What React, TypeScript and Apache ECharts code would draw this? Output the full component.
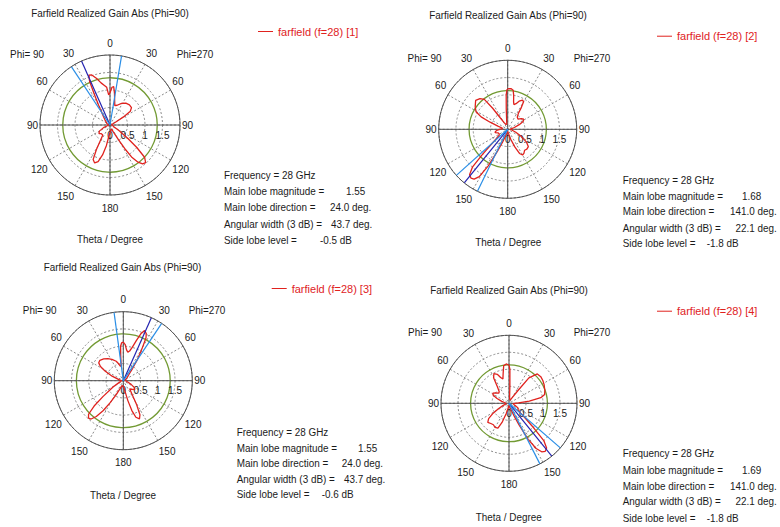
import React, { useEffect, useRef } from "react";
import * as echarts from "echarts";

// ---------- text ----------
const TITLE_TEXT = "Farfield Realized Gain Abs (Phi=90)";
const PHI_LEFT = "Phi= 90";
const PHI_RIGHT = "Phi=270";
const AXIS_NAME = "Theta / Degree";
const STAT_LABELS = [
  "Frequency = 28 GHz",
  "Main lobe magnitude =",
  "Main lobe direction =",
  "Angular width (3 dB) =",
  "Side lobe level =",
];

// ---------- scales ----------
const RADIAL_MAX = 2;
const RADIAL_STEP = 0.5;
const ANGLE_STEP = 30;

// Angles are measured clockwise from the top (theta = 0).
// Right half = Phi=270 (theta = angle), left half = Phi=90 (theta = 360 - angle).

// ---------- plot 1 ----------
const P1_NAME = "farfield (f=28) [1]";
const P1_ANGLE = [0, 3, 5.5, 8, 11, 14, 20, 28, 36, 44, 51, 56, 59, 62, 68, 80, 90, 100, 115, 122, 127, 130, 133, 136.5, 140, 143, 146, 148, 150, 153, 158, 165, 175, 185, 190, 194, 198, 202, 206, 209, 212, 216, 225, 232, 240, 248, 255, 270, 285, 295, 305, 315, 322, 327, 330, 333, 335, 337, 340, 344, 348, 352, 355, 357.5, 360];
const P1_GAIN = [0.92, 1.08, 1.1, 0.92, 0.7, 0.57, 0.6, 0.7, 0.77, 0.8, 0.79, 0.7, 0.45, 0.2, 0.08, 0.04, 0.04, 0.08, 0.12, 0.3, 0.65, 1.0, 1.35, 1.48, 1.45, 1.33, 1.1, 0.8, 0.5, 0.28, 0.15, 0.12, 0.18, 0.3, 0.6, 0.88, 1.1, 1.17, 1.1, 0.8, 0.5, 0.35, 0.35, 0.4, 0.35, 0.2, 0.08, 0.04, 0.05, 0.1, 0.12, 0.2, 0.3, 0.45, 0.65, 1.0, 1.38, 1.55, 1.52, 1.38, 1.23, 1.14, 1.08, 0.86, 0.92];
const P1_MAIN_DIR = 336;
const P1_EDGES = [326.5, 9.5];
const P1_SIDE_RING = 1.35;
const P1_VALUES = ["1.55", "24.0 deg.", "43.7 deg.", "-0.5 dB"];

// ---------- plot 2 ----------
const P2_NAME = "farfield (f=28) [2]";
const P2_ANGLE = [0, 2, 5, 8, 10, 12, 14, 18, 22, 27, 30, 32, 34, 38, 45, 52, 58, 63, 68, 75, 82, 90, 100, 110, 118, 124, 130, 136, 141, 146, 150, 154, 158, 163, 170, 180, 190, 198, 202, 205, 208, 211, 214, 217, 220, 223, 225, 227, 230, 235, 242, 250, 255, 260, 266, 274, 282, 288, 292, 295, 299, 305, 312, 318, 322, 324.5, 327, 332, 340, 350, 354, 356, 357.5, 359, 360];
const P2_GAIN = [1.17, 1.18, 1.18, 1.14, 1.0, 0.82, 0.74, 0.78, 0.88, 0.95, 0.92, 0.75, 0.55, 0.45, 0.42, 0.5, 0.55, 0.5, 0.36, 0.2, 0.1, 0.07, 0.12, 0.25, 0.45, 0.65, 0.78, 0.8, 0.78, 0.84, 0.86, 0.78, 0.55, 0.3, 0.12, 0.06, 0.1, 0.2, 0.4, 0.7, 1.2, 1.6, 1.74, 1.77, 1.72, 1.5, 1.05, 0.7, 0.45, 0.3, 0.28, 0.3, 0.38, 0.36, 0.3, 0.18, 0.15, 0.3, 0.55, 0.85, 1.05, 1.15, 1.25, 1.2, 1.1, 0.75, 0.4, 0.22, 0.15, 0.15, 0.3, 0.6, 1.0, 1.15, 1.17];
const P2_MAIN_DIR = 219;
const P2_EDGES = [228.1, 206.0];
const P2_SIDE_RING = 1.12;
const P2_VALUES = ["1.68", "141.0 deg.", "22.1 deg.", "-1.8 dB"];

// ---------- plot 3 ----------
const P3_NAME = "farfield (f=28) [3]";
const P3_ANGLE = [0, 3, 6, 9, 12, 15, 18, 20.5, 23, 26, 28, 31, 34, 37, 42, 50, 60, 75, 90, 105, 115, 122, 128, 135, 142, 148, 151, 154, 157, 161, 164, 167, 170, 175, 185, 195, 202, 207, 211, 214, 217, 220, 223, 226, 229, 232, 238, 245, 255, 270, 280, 292, 298, 302, 306, 311, 318, 325, 332, 340, 345, 349, 352, 354, 355.5, 357.5, 360];
const P3_GAIN = [1.12, 1.05, 0.9, 0.84, 0.88, 1.0, 1.22, 1.45, 1.58, 1.52, 1.4, 1.0, 0.7, 0.45, 0.25, 0.15, 0.08, 0.05, 0.05, 0.12, 0.25, 0.38, 0.42, 0.35, 0.3, 0.5, 0.8, 1.1, 1.2, 1.12, 0.9, 0.6, 0.35, 0.2, 0.15, 0.15, 0.25, 0.45, 0.75, 1.05, 1.3, 1.45, 1.48, 1.4, 1.12, 0.75, 0.35, 0.15, 0.08, 0.05, 0.1, 0.35, 0.6, 0.78, 0.88, 0.9, 0.85, 0.78, 0.7, 0.6, 0.5, 0.42, 0.45, 0.72, 1.0, 1.1, 1.12];
const P3_MAIN_DIR = 24;
const P3_EDGES = [352.3, 33.8];
const P3_SIDE_RING = 1.36;
const P3_VALUES = ["1.55", "24.0 deg.", "43.7 deg.", "-0.6 dB"];

// ---------- plot 4 ----------
const P4_NAME = "farfield (f=28) [4]";
const P4_ANGLE = [0, 1.5, 3, 5, 10, 20, 30, 35, 38, 44, 50, 56, 62, 70, 76, 80, 84, 88, 95, 105, 112, 118, 125, 130, 133, 135, 137, 140, 143, 146, 149, 152, 155, 158, 162, 170, 180, 188, 195, 200, 204, 210, 216, 222, 228, 233, 238, 243, 250, 260, 270, 278, 285, 292, 297, 302, 308, 315, 320, 325, 329, 333, 338, 342, 346, 349, 352, 356, 360];
const P4_GAIN = [1.12, 1.0, 0.5, 0.2, 0.12, 0.1, 0.2, 0.45, 0.95, 1.2, 1.22, 1.2, 1.17, 1.12, 1.08, 0.95, 0.6, 0.28, 0.12, 0.15, 0.22, 0.3, 0.32, 0.45, 0.7, 1.05, 1.5, 1.72, 1.77, 1.72, 1.55, 1.2, 0.7, 0.4, 0.2, 0.1, 0.06, 0.12, 0.3, 0.6, 0.8, 0.82, 0.78, 0.8, 0.84, 0.75, 0.55, 0.35, 0.18, 0.08, 0.08, 0.12, 0.22, 0.38, 0.52, 0.56, 0.5, 0.42, 0.45, 0.6, 0.88, 0.98, 0.92, 0.8, 0.74, 0.9, 1.12, 1.16, 1.12];
const P4_MAIN_DIR = 141;
const P4_EDGES = [131, 153];
const P4_SIDE_RING = 1.13;
const P4_VALUES = ["1.69", "141.0 deg.", "22.1 deg.", "-1.8 dB"];

const PLOTS = [
  { name: P1_NAME, angle: P1_ANGLE, gain: P1_GAIN, main: P1_MAIN_DIR, edges: P1_EDGES, ring: P1_SIDE_RING, values: P1_VALUES },
  { name: P2_NAME, angle: P2_ANGLE, gain: P2_GAIN, main: P2_MAIN_DIR, edges: P2_EDGES, ring: P2_SIDE_RING, values: P2_VALUES },
  { name: P3_NAME, angle: P3_ANGLE, gain: P3_GAIN, main: P3_MAIN_DIR, edges: P3_EDGES, ring: P3_SIDE_RING, values: P3_VALUES },
  { name: P4_NAME, angle: P4_ANGLE, gain: P4_GAIN, main: P4_MAIN_DIR, edges: P4_EDGES, ring: P4_SIDE_RING, values: P4_VALUES },
];

// ---------- layout (pixels) ----------
const LAYOUT = [
  { center: [110, 125], r: 70, title: [110, 13], phiL: [27, 54], phiR: [195, 54], axisName: [110, 239], legend: [258, 33], statX: 224, valX: [346, 330, 331, 320], rows: [175, 191.5, 207.5, 224, 240] },
  { center: [507.7, 129.3], r: 69, title: [508, 15.5], phiL: [424.5, 58.7], phiR: [592, 58.7], axisName: [508.3, 242.7], legend: [657, 37.7], statX: 622.7, valX: [742, 730, 735.5, 706.7], rows: [180, 196, 211.7, 228.3, 243.3] },
  { center: [123.3, 380.7], r: 69, title: [122.5, 267.3], phiL: [39.7, 310.7], phiR: [207, 310.7], axisName: [123, 495], legend: [271.7, 290], statX: 236.7, valX: [358, 341.7, 344, 321.7], rows: [432.7, 448.3, 463.3, 479, 494.3] },
  { center: [509, 403.3], r: 68, title: [509, 290.7], phiL: [425, 332.7], phiR: [592, 332.7], axisName: [508.7, 517.3], legend: [657, 312.7], statX: 622.7, valX: [742, 730, 735.5, 706.7], rows: [453.3, 470, 486, 501.7, 518.3] },
];

const FONT = '"Liberation Sans", Arial, sans-serif';
const TEXT = "#1a1a1a";
const RED = "#e0221e";
const GREEN = "#729a33";
const DARK_BLUE = "#2424b0";
const LIGHT_BLUE = "#2a8ee6";
const AXIS_COLOR = "#505050";
const GRID_COLOR = "#8a8a8a";

// extra distance of each angle label from the rim: [top, right, bottom, left] padding
const LABEL_PAD: Record<string, number[]> = {
  p0: [0, 0, 5, 0],
  p30: [0, 0, 4, 0],
  p60: [0, 0, 3, 0],
  p90: [0, 0, 0, 0],
  p120: [3, 0, 0, 0],
  p150: [4, 0, 0, 0],
  p180: [6, 0, 0, 0],
};
const AXIS_LABEL_SIZE = 10;
const RICH: Record<string, any> = {};
Object.keys(LABEL_PAD).forEach((k) => {
  RICH[k] = { padding: LABEL_PAD[k], fontSize: AXIS_LABEL_SIZE, fontFamily: FONT, color: TEXT };
});

function txt(x: number, y: number, text: string, align = "center", size = 11, color = TEXT) {
  return {
    type: "text",
    x,
    y,
    scaleX: 0.9,
    silent: true,
    style: { text, fill: color, font: `${size}px ${FONT}`, align, verticalAlign: "middle" },
  };
}

function buildOption() {
  const polar: any[] = [];
  const angleAxis: any[] = [];
  const radiusAxis: any[] = [];
  const series: any[] = [];
  const legend: any[] = [];
  const graphic: any[] = [];

  PLOTS.forEach((p, i) => {
    const L = LAYOUT[i];
    const base = i * 3;
    for (let k = 0; k < 3; k++) polar.push({ center: L.center, radius: L.r });

    // polar A: dashed grid + angle labels
    angleAxis.push({
      polarIndex: base, type: "value", min: 0, max: 360, interval: ANGLE_STEP,
      startAngle: 90, clockwise: true, z: 0,
      axisLine: { show: false }, axisTick: { show: false },
      splitLine: { show: true, lineStyle: { color: GRID_COLOR, width: 1, type: [2, 2] } },
      axisLabel: {
        show: true, margin: 2, color: TEXT, fontSize: AXIS_LABEL_SIZE, fontFamily: FONT,
        rich: RICH,
        formatter: (v: number) => {
          if (v >= 360) return "";
          const t = v <= 180 ? v : 360 - v;
          return `{p${t}|${t}}`;
        },
      },
    });
    radiusAxis.push({
      polarIndex: base, type: "value", min: 0, max: RADIAL_MAX, interval: RADIAL_STEP, z: 0,
      axisLine: { show: false }, axisTick: { show: false }, axisLabel: { show: false },
      splitLine: { show: true, lineStyle: { color: GRID_COLOR, width: 1, type: [2, 2] } },
    });

    // polar B: solid cross, outer circle, radial labels
    angleAxis.push({
      polarIndex: base + 1, type: "value", min: 0, max: 360, interval: 90,
      startAngle: 0, clockwise: true, z: 1,
      axisLine: { show: true, lineStyle: { color: AXIS_COLOR, width: 1 } },
      axisTick: { show: false }, axisLabel: { show: false },
      splitLine: { show: true, lineStyle: { color: AXIS_COLOR, width: 1, type: "solid" } },
    });
    radiusAxis.push({
      polarIndex: base + 1, type: "value", min: 0, max: RADIAL_MAX, interval: RADIAL_STEP, z: 1,
      axisLine: { show: false }, axisTick: { show: false }, splitLine: { show: false },
      axisLabel: {
        show: true, margin: -5, verticalAlign: "top", color: TEXT, fontSize: AXIS_LABEL_SIZE, fontFamily: FONT,
        formatter: (v: number) => (v >= RADIAL_MAX ? "" : String(v)),
      },
    });

    // polar C: side lobe ring
    angleAxis.push({ polarIndex: base + 2, type: "value", min: 0, max: 360, startAngle: 90, show: false });
    radiusAxis.push({
      polarIndex: base + 2, type: "value", min: 0, max: RADIAL_MAX, interval: p.ring, z: 1,
      axisLine: { show: false }, axisTick: { show: false }, axisLabel: { show: false },
      splitLine: { show: true, lineStyle: { color: ["rgba(0,0,0,0)", GREEN, "rgba(0,0,0,0)"], width: 1.3 } },
    });

    series.push({
      type: "line", name: p.name, coordinateSystem: "polar", polarIndex: base,
      data: p.angle.map((a, k) => [p.gain[k], a]),
      symbol: "none", showSymbol: false, silent: true, z: 4,
      lineStyle: { color: RED, width: 1.3 }, itemStyle: { color: RED },
    });
    series.push({
      type: "line", name: "main lobe " + (i + 1), coordinateSystem: "polar", polarIndex: base,
      data: [[0, p.main], [RADIAL_MAX, p.main]],
      symbol: "none", silent: true, z: 5, lineStyle: { color: DARK_BLUE, width: 1.2 },
    });
    p.edges.forEach((e, k) => {
      series.push({
        type: "line", name: "3 dB edge " + (i + 1) + "-" + k, coordinateSystem: "polar", polarIndex: base,
        data: [[0, e], [RADIAL_MAX, e]],
        symbol: "none", silent: true, z: 5, lineStyle: { color: LIGHT_BLUE, width: 1.2 },
      });
    });

    legend.push({
      data: [p.name], left: L.legend[0], top: L.legend[1] - 7, padding: 0,
      icon: "rect", itemWidth: 15, itemHeight: 1, selectedMode: false,
      textStyle: { color: RED, fontSize: 11, fontFamily: FONT },
    });

    graphic.push(txt(L.title[0], L.title[1], TITLE_TEXT));
    graphic.push(txt(L.phiL[0], L.phiL[1], PHI_LEFT));
    graphic.push(txt(L.phiR[0], L.phiR[1], PHI_RIGHT));
    graphic.push(txt(L.axisName[0], L.axisName[1], AXIS_NAME));
    STAT_LABELS.forEach((s, k) => graphic.push(txt(L.statX, L.rows[k], s, "left")));
    p.values.forEach((v, k) => graphic.push(txt(L.valX[k], L.rows[k + 1], v, "left")));
  });

  return {
    animation: false,
    backgroundColor: "#ffffff",
    polar, angleAxis, radiusAxis, series, legend,
    graphic: { elements: graphic },
  };
}

export default function App() {
  const ref = useRef<HTMLDivElement>(null);
  useEffect(() => {
    if (!ref.current) return;
    const chart = echarts.init(ref.current, undefined, { renderer: "svg" });
    chart.setOption(buildOption() as any);
    return () => chart.dispose();
  }, []);
  return (
    <div
      ref={ref}
      style={{ position: "fixed", left: 0, top: 0, width: 780, height: 527, background: "#fff" }}
    />
  );
}
